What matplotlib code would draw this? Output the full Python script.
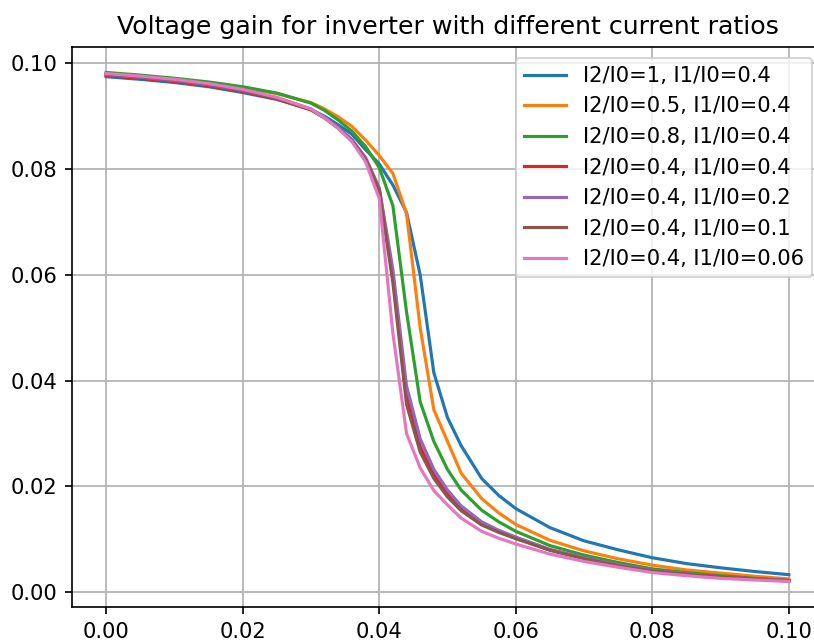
import numpy as np
import matplotlib
matplotlib.use("Agg")
import matplotlib.pyplot as plt

# input voltage samples
vin = [0, 0.005, 0.01, 0.015, 0.02, 0.025, 0.03, 0.032, 0.034, 0.036, 0.038, 0.040,
       0.042, 0.044, 0.046, 0.048, 0.050, 0.052, 0.055, 0.0575, 0.06, 0.065, 0.07,
       0.075, 0.08, 0.085, 0.09, 0.095, 0.10]

# output for each current ratio
gain_i2_1 = [0.0975, 0.0970, 0.0964, 0.0956, 0.0945, 0.0932, 0.0913, 0.0900, 0.0884, 0.0866,
             0.0837, 0.0810, 0.0770, 0.0718, 0.0600, 0.0415, 0.0330, 0.0277, 0.0215,
             0.0183, 0.0158, 0.0122, 0.0097, 0.0080, 0.0065, 0.0054, 0.0046, 0.0039, 0.0033]
gain_i2_05 = [0.0979, 0.0975, 0.0969, 0.0962, 0.0954, 0.0943, 0.0926, 0.0914, 0.0899, 0.0881,
              0.0855, 0.0826, 0.0792, 0.0716, 0.0500, 0.0345, 0.0285, 0.0225, 0.0177,
              0.0150, 0.0128, 0.0098, 0.0078, 0.0063, 0.0051, 0.0042, 0.0036, 0.0030, 0.0025]
gain_i2_08 = [0.0983, 0.0978, 0.0972, 0.0965, 0.0956, 0.0944, 0.0925, 0.0911, 0.0893, 0.0872,
              0.0843, 0.0803, 0.0731, 0.0530, 0.0360, 0.0285, 0.0232, 0.0193, 0.0155,
              0.0133, 0.0115, 0.0088, 0.0070, 0.0056, 0.0044, 0.0037, 0.0031, 0.0026, 0.0022]
gain_i1_04 = [0.0977, 0.0972, 0.0966, 0.0958, 0.0947, 0.0933, 0.0912, 0.0897, 0.0878, 0.0855,
              0.0820, 0.0762, 0.0600, 0.0370, 0.0275, 0.0222, 0.0185, 0.0158, 0.0130,
              0.0115, 0.0103, 0.0080, 0.0064, 0.0051, 0.0040, 0.0034, 0.0029, 0.0025, 0.0022]
gain_i1_02 = [0.0979, 0.0974, 0.0968, 0.0960, 0.0949, 0.0935, 0.0914, 0.0898, 0.0879, 0.0856,
              0.0822, 0.0765, 0.0610, 0.0390, 0.0290, 0.0232, 0.0193, 0.0163, 0.0133,
              0.0117, 0.0104, 0.0081, 0.0065, 0.0052, 0.0041, 0.0035, 0.0029, 0.0025, 0.0022]
gain_i1_01 = [0.0980, 0.0975, 0.0969, 0.0961, 0.0950, 0.0935, 0.0913, 0.0897, 0.0878, 0.0854,
              0.0819, 0.0760, 0.0585, 0.0355, 0.0265, 0.0215, 0.0180, 0.0154, 0.0127,
              0.0113, 0.0101, 0.0079, 0.0063, 0.0050, 0.0040, 0.0034, 0.0029, 0.0025, 0.0021]
gain_i1_006 = [0.0981, 0.0976, 0.0970, 0.0962, 0.0951, 0.0936, 0.0914, 0.0897, 0.0877, 0.0852,
               0.0814, 0.0745, 0.0490, 0.0300, 0.0235, 0.0192, 0.0165, 0.0140, 0.0115,
               0.0102, 0.0091, 0.0072, 0.0058, 0.0047, 0.0037, 0.0031, 0.0026, 0.0023, 0.0020]

labels = ['I2/I0=1, I1/I0=0.4', 'I2/I0=0.5, I1/I0=0.4', 'I2/I0=0.8, I1/I0=0.4',
          'I2/I0=0.4, I1/I0=0.4', 'I2/I0=0.4, I1/I0=0.2', 'I2/I0=0.4, I1/I0=0.1',
          'I2/I0=0.4, I1/I0=0.06']
series = [gain_i2_1, gain_i2_05, gain_i2_08, gain_i1_04, gain_i1_02, gain_i1_01, gain_i1_006]

dpi = 151.5
fig = plt.figure(figsize=(814 / dpi, 642 / dpi), dpi=dpi)
ax = fig.add_axes([72 / 814, 35 / 642, 751 / 814, 560 / 642])

for y, lab in zip(series, labels):
    ax.plot(vin, y, label=lab)

ax.set_title('Voltage gain for inverter with different current ratios')
ax.grid(True)
ax.legend(loc='upper right')

fig.savefig('out.png', dpi=dpi)
